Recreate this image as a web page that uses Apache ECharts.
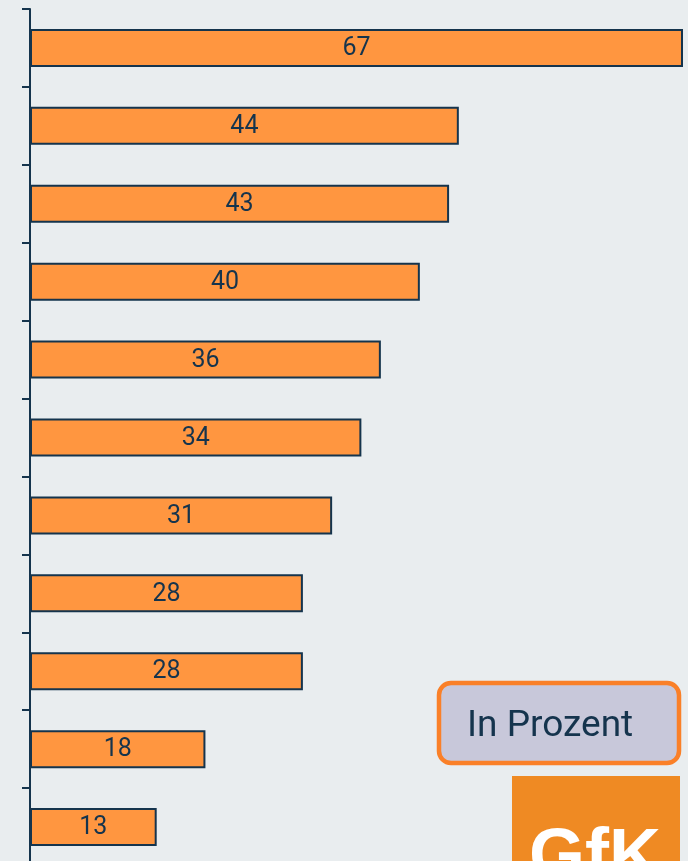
<!DOCTYPE html>
<html>
<head>
<meta charset="utf-8">
<script src="https://cdn.jsdelivr.net/npm/echarts@6/dist/echarts.min.js"></script>
<style>
  html, body { margin: 0; padding: 0; background: #e9edef; }
  #chart { width: 688px; height: 861px; }
</style>
</head>
<body>
<div id="chart"></div>
<script>
// categories are not labelled in the picture, keep them as row numbers
const categories = ['1', '2', '3', '4', '5', '6', '7', '8', '9', '10', '11'];
const values = [67, 44, 43, 40, 36, 34, 31, 28, 28, 18, 13];
const unitLabel = 'In Prozent';
const logoText = 'GfK';

const navy = '#15344d';
const orange = '#ff9640';

let chart = echarts.init(document.getElementById('chart'));

let option = {
  backgroundColor: '#e9edef',
  animation: false,
  grid: { left: 30, right: 5, top: 9, height: 857, outerBoundsMode: 'none' },
  xAxis: {
    type: 'value',
    min: 0,
    max: 67,
    show: false
  },
  yAxis: {
    type: 'category',
    data: categories,
    inverse: true,
    axisLine: { show: true, lineStyle: { color: navy, width: 2 } },
    axisTick: { show: true, length: 8, lineStyle: { color: navy, width: 2 } },
    axisLabel: { show: false },
    splitLine: { show: false }
  },
  series: [{
    type: 'bar',
    data: values,
    barWidth: 38,
    itemStyle: { color: orange, borderColor: navy, borderWidth: 2 },
    label: {
      show: true,
      position: 'inside',
      color: navy,
      fontFamily: 'Roboto',
      fontSize: 25,
      offset: [0, 1]
    }
  }],
  graphic: [
    {
      type: 'rect',
      shape: { x: 439, y: 683, width: 240, height: 80, r: 12 },
      style: { fill: '#c8c8da', stroke: '#fa8028', lineWidth: 4.5 },
      z: 10
    },
    {
      type: 'text',
      x: 467,
      y: 727,
      style: {
        text: unitLabel,
        fill: navy,
        font: '37px Roboto',
        verticalAlign: 'middle'
      },
      z: 11
    },
    {
      type: 'rect',
      shape: { x: 512, y: 776, width: 168, height: 100 },
      style: { fill: '#ef8a23' },
      z: 10
    },
    {
      type: 'text',
      x: 595,
      y: 823,
      style: {
        text: logoText,
        fill: '#ffffff',
        font: 'bold 72px "Liberation Sans"',
        align: 'center',
        verticalAlign: 'top'
      },
      z: 11
    }
  ]
};

chart.setOption(option);
</script>
</body>
</html>
